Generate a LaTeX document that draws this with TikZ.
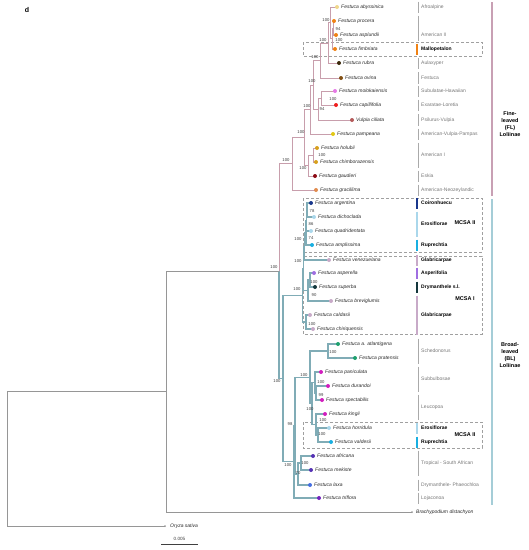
\documentclass[tikz,border=0pt]{standalone}
\usepackage{fontspec}
\setmainfont{Liberation Sans}
\definecolor{flc}{RGB}{200,158,172}
\definecolor{blc}{RGB}{128,172,182}
\definecolor{ogc}{RGB}{150,150,150}
\definecolor{txc}{RGB}{40,40,40}
\definecolor{supc}{RGB}{60,60,60}
\definecolor{grc}{RGB}{120,120,120}
\definecolor{sepc}{RGB}{170,170,170}
\definecolor{boxc}{RGB}{160,160,160}
\definecolor{cAbys}{RGB}{240,215,140}
\definecolor{cOrange}{RGB}{240,130,20}
\definecolor{cRubra}{RGB}{60,40,10}
\definecolor{cOvina}{RGB}{130,80,20}
\definecolor{cMolo}{RGB}{230,120,230}
\definecolor{cCapi}{RGB}{240,30,30}
\definecolor{cVulp}{RGB}{180,90,90}
\definecolor{cPamp}{RGB}{225,200,20}
\definecolor{cAmI}{RGB}{215,160,30}
\definecolor{cGaud}{RGB}{140,10,20}
\definecolor{cGrac}{RGB}{225,140,80}
\definecolor{cArg}{RGB}{25,55,140}
\definecolor{cLblue}{RGB}{170,215,235}
\definecolor{cCyan}{RGB}{25,175,225}
\definecolor{cGlab}{RGB}{200,170,200}
\definecolor{cAsp}{RGB}{160,110,225}
\definecolor{cSup}{RGB}{20,55,60}
\definecolor{cGreen}{RGB}{30,160,110}
\definecolor{cMag}{RGB}{210,30,190}
\definecolor{cAfr}{RGB}{85,50,180}
\definecolor{cLaxa}{RGB}{70,110,225}
\definecolor{cTrif}{RGB}{115,35,190}
\definecolor{flbar}{RGB}{200,160,180}
\definecolor{blbar}{RGB}{165,205,215}
\newcommand\tipc[3]{\coordinate (#1) at (#2,#3);}
\newcommand\tipd[3]{%
  \node[dot,fill=#2] (#1d) at (#1) {};
  \node[tx] (#1l) at ([xshift=4pt]#1) {#3};}
\newcommand\mynd[3]{\coordinate (#1) at (#2,#3);}
\newcommand\mysup[4]{\node[sup] (#1) at (#2,#3) {#4};}
\newcommand\mygrp[5]{%
  \coordinate (#1a) at (418,#2); \coordinate (#1b) at (418,#3);
  \draw[sep] (#1a) -- (#1b);
  \node[grp] (#1t) at (421,#4) {#5};}
\newcommand\mybgrp[6]{%
  \coordinate (#1a) at (417,#2); \coordinate (#1b) at (417,#3);
  \draw[bar,draw=#5] (#1a) -- (#1b);
  \node[bgrp] (#1t) at (421,#4) {#6};}
\begin{document}
\begin{tikzpicture}[x=1pt,y=-1pt,
  fl/.style={draw=flc, line width=0.8pt},
  bl/.style={draw=blc, line width=1.2pt},
  og/.style={draw=ogc, line width=0.8pt},
  dot/.style={circle, inner sep=0pt, minimum size=4pt},
  odot/.style={circle, inner sep=0pt, minimum size=2pt, fill=ogc},
  tx/.style={anchor=west, inner sep=0pt, font=\fontsize{5}{6}\selectfont\itshape, text=txc},
  sup/.style={inner sep=0pt, font=\fontsize{4.2}{5}\selectfont, text=supc},
  grp/.style={anchor=west, inner sep=0pt, font=\fontsize{5}{6}\selectfont, text=grc},
  bgrp/.style={anchor=west, inner sep=0pt, font=\fontsize{5}{6}\selectfont\bfseries, text=black},
  mcsa/.style={inner sep=0pt, font=\fontsize{5.5}{6.5}\selectfont\bfseries, text=black},
  clade/.style={inner sep=0pt, align=center, font=\fontsize{5.5}{7.3}\selectfont\bfseries, text=black},
  sep/.style={draw=sepc, line width=0.5pt},
  bar/.style={line width=1.4pt},
  box/.style={draw=boxc, line width=0.5pt, dash pattern=on 3pt off 2pt},
]
\useasboundingbox (0,0) rectangle (529,550);
% panel letter
\node[inner sep=0pt, font=\fontsize{7}{8}\selectfont\bfseries] (panel) at (27,10) {d};
% dashed boxes
\draw[box] (303,42) rectangle (482,56);
\draw[box] (303,198) rectangle (482,252);
\draw[box] (303,256) rectangle (482,334);
\draw[box] (303,422) rectangle (482,448);
% ---------- tip coordinates ----------
\tipc{abys}{337}{7}
\tipc{proc}{334}{21}
\tipc{aspl}{336}{35}
\tipc{fimb}{335}{49}
\tipc{rubr}{339}{63}
\tipc{ovin}{341}{78}
\tipc{molo}{335}{91}
\tipc{capi}{336}{105}
\tipc{vulp}{352}{120}
\tipc{pamp}{333}{134}
\tipc{holu}{317}{148}
\tipc{chim}{316}{162}
\tipc{gaud}{315}{176}
\tipc{grac}{316}{190}
\tipc{arge}{311}{203}
\tipc{dich}{314}{217}
\tipc{quad}{311}{231}
\tipc{ampl}{312}{245}
\tipc{vene}{329}{260}
\tipc{aspe}{314}{273}
\tipc{supe}{315}{287}
\tipc{brev}{331}{301}
\tipc{cald}{310}{315}
\tipc{chir}{313}{329}
\tipc{atla}{338}{344}
\tipc{prat}{355}{358}
\tipc{pani}{321}{372}
\tipc{dura}{328}{386}
\tipc{spec}{322}{400}
\tipc{king}{325}{414}
\tipc{horr}{329}{428}
\tipc{vald}{331}{442}
\tipc{afri}{313}{456}
\tipc{meki}{311}{470}
\tipc{laxa}{310}{485}
\tipc{trif}{319}{498}
\tipc{brac}{412}{512}
\tipc{oryz}{165}{526}
% ---------- internal nodes ----------
\mynd{PA}{333}{28}
\mynd{PAF}{332}{38.5}
\mynd{APAF}{330}{22.75}
\mynd{R}{328}{42.9}
\mynd{O}{320}{60.7}
\mynd{MC}{321}{98}
\mynd{MCV}{318}{109}
\mynd{OM}{313}{84.9}
\mynd{OMP}{310}{109.4}
\mynd{HC}{313}{155}
\mynd{HCG}{308}{165.5}
\mynd{F1}{304}{137.5}
\mynd{FL}{292}{163.7}
\mynd{AD}{307}{210}
\mynd{ADQ}{306.5}{220.5}
\mynd{M2}{306}{232.75}
\mynd{V}{304.5}{246.4}
\mynd{AS}{310}{280}
\mynd{ASB}{308}{290.5}
\mynd{V2}{303.5}{268.4}
\mynd{CC}{306}{322}
\mynd{MCSA}{302.5}{295.2}
\mynd{S}{328}{351}
\mynd{D}{316}{393}
\mynd{P}{315}{382.5}
\mynd{H}{318}{435}
\mynd{Q}{316}{424.5}
\mynd{K}{312}{403.5}
\mynd{SK}{310}{377.25}
\mynd{AM}{301}{463}
\mynd{AML}{298}{474}
\mynd{R1}{295}{425.6}
\mynd{R2}{294}{461.8}
\mynd{BL}{283}{378.5}
\mynd{LOL}{279}{271.1}
\mynd{B}{166}{391.5}
\mynd{ROOT}{7}{458.8}
% ---------- edges ----------
\draw[fl] (PA) |- (proc) (PA) |- (aspl);
\draw[fl] (PAF) |- (PA) (PAF) |- (fimb);
\draw[fl] (APAF) |- (abys) (APAF) |- (PAF);
\draw[fl] (R) |- (APAF) (R) |- (rubr);
\draw[fl] (O) |- (R) (O) |- (ovin);
\draw[fl] (MC) |- (molo) (MC) |- (capi);
\draw[fl] (MCV) |- (MC) (MCV) |- (vulp);
\draw[fl] (OM) |- (O) (OM) |- (MCV);
\draw[fl] (OMP) |- (OM) (OMP) |- (pamp);
\draw[fl] (HC) |- (holu) (HC) |- (chim);
\draw[fl] (HCG) |- (HC) (HCG) |- (gaud);
\draw[fl] (F1) |- (OMP) (F1) |- (HCG);
\draw[fl] (FL) |- (F1) (FL) |- (grac);
\draw[fl] (LOL) |- (FL);
\draw[bl] (LOL) |- (BL);
\draw[bl] (AD) |- (arge) (AD) |- (dich);
\draw[bl] (ADQ) |- (AD) (ADQ) |- (quad);
\draw[bl] (M2) |- (ADQ) (M2) |- (ampl);
\draw[bl] (V) |- (M2) (V) |- (vene);
\draw[bl] (AS) |- (aspe) (AS) |- (supe);
\draw[bl] (ASB) |- (AS) (ASB) |- (brev);
\draw[bl] (V2) |- (V) (V2) |- (ASB);
\draw[bl] (CC) |- (cald) (CC) |- (chir);
\draw[bl] (MCSA) |- (V2) (MCSA) |- (CC);
\draw[bl] (S) |- (atla) (S) |- (prat);
\draw[bl] (D) |- (dura) (D) |- (spec);
\draw[bl] (P) |- (pani) (P) |- (D);
\draw[bl] (H) |- (horr) (H) |- (vald);
\draw[bl] (Q) |- (king) (Q) |- (H);
\draw[bl] (K) |- (P) (K) |- (Q);
\draw[bl] (SK) |- (S) (SK) |- (K);
\draw[bl] (AM) |- (afri) (AM) |- (meki);
\draw[bl] (AML) |- (AM) (AML) |- (laxa);
\draw[bl] (R1) |- (SK) (R1) |- (AML);
\draw[bl] (R2) |- (R1) (R2) |- (trif);
\draw[bl] (BL) |- (MCSA) (BL) |- (R2);
\draw[og] (B) |- (LOL) (B) |- (brac);
\draw[og] (ROOT) |- (B) (ROOT) |- (oryz);
% ---------- tip dots and names ----------
\tipd{abys}{cAbys}{Festuca abyssinica}
\tipd{proc}{cOrange}{Festuca procera}
\tipd{aspl}{cOrange}{Festuca asplundii}
\tipd{fimb}{cOrange}{Festuca fimbriata}
\tipd{rubr}{cRubra}{Festuca rubra}
\tipd{ovin}{cOvina}{Festuca ovina}
\tipd{molo}{cMolo}{Festuca molokaiensis}
\tipd{capi}{cCapi}{Festuca capillifolia}
\tipd{vulp}{cVulp}{Vulpia ciliata}
\tipd{pamp}{cPamp}{Festuca pampeana}
\tipd{holu}{cAmI}{Festuca holubii}
\tipd{chim}{cAmI}{Festuca chimborazensis}
\tipd{gaud}{cGaud}{Festuca gaudieri}
\tipd{grac}{cGrac}{Festuca gracillima}
\tipd{arge}{cArg}{Festuca argentina}
\tipd{dich}{cLblue}{Festuca dichoclada}
\tipd{quad}{cLblue}{Festuca quadridentata}
\tipd{ampl}{cCyan}{Festuca amplissima}
\tipd{vene}{cGlab}{Festuca venezuelana}
\tipd{aspe}{cAsp}{Festuca asperella}
\tipd{supe}{cSup}{Festuca superba}
\tipd{brev}{cGlab}{Festuca breviglumis}
\tipd{cald}{cGlab}{Festuca caldasii}
\tipd{chir}{cGlab}{Festuca chiriquensis}
\tipd{atla}{cGreen}{Festuca a. atlantigena}
\tipd{prat}{cGreen}{Festuca pratensis}
\tipd{pani}{cMag}{Festuca paniculata}
\tipd{dura}{cMag}{Festuca durandoi}
\tipd{spec}{cMag}{Festuca spectabilis}
\tipd{king}{cMag}{Festuca kingii}
\tipd{horr}{cLblue}{Festuca horridula}
\tipd{vald}{cCyan}{Festuca valdesii}
\tipd{afri}{cAfr}{Festuca africana}
\tipd{meki}{cAfr}{Festuca mekiste}
\tipd{laxa}{cLaxa}{Festuca laxa}
\tipd{trif}{cTrif}{Festuca triflora}
\node[odot] (bracd) at (brac) {};
\node[tx] (bracl) at ([xshift=4pt]brac) {Brachypodium distachyon};
\node[odot] (oryzd) at (oryz) {};
\node[tx] (oryzl) at ([xshift=5pt]oryz) {Oryza sativa};
% ---------- supports ----------
\mysup{sAPAF}{326}{20}{100}
\mysup{sPA}{338}{29}{94}
\mysup{sPAF}{339}{40}{100}
\mysup{sR}{323}{40}{100}
\mysup{sO}{315}{57}{100}
\mysup{sOM}{312}{81}{100}
\mysup{sMC}{333}{99}{100}
\mysup{sOMP}{307}{106}{100}
\mysup{sMCV}{322}{109}{94}
\mysup{sF1}{301}{132}{100}
\mysup{sHC}{322}{155}{100}
\mysup{sHCG}{303}{168}{100}
\mysup{sFL}{286}{160}{100}
\mysup{sLOL}{274}{267}{100}
\mysup{sAD}{312}{211}{78}
\mysup{sADQ}{311}{224}{86}
\mysup{sM2}{311}{238}{74}
\mysup{sV}{298}{239}{100}
\mysup{sV2}{298}{261}{100}
\mysup{sAS}{314}{282}{100}
\mysup{sASB}{314}{295}{90}
\mysup{sCC}{312}{324}{100}
\mysup{sMCSA}{297}{289}{100}
\mysup{sS}{333}{352}{100}
\mysup{sP}{321}{382}{100}
\mysup{sD}{321}{395}{99}
\mysup{sK}{310}{409}{100}
\mysup{sQ}{323}{420}{100}
\mysup{sH}{322}{434}{100}
\mysup{sSK}{304}{375}{100}
\mysup{sAM}{305}{463}{100}
\mysup{sAML}{298}{473}{70}
\mysup{sR1}{290}{424}{98}
\mysup{sR2}{288}{465}{100}
\mysup{sBL}{277}{381}{100}
% ---------- groups ----------
\mygrp{g1}{1.5}{12.5}{7}{Afroalpine}
\mygrp{g2}{15.5}{40.5}{35}{American II}
\mybgrp{g3}{44}{55}{49}{cOrange}{Mallopetalon}
\mygrp{g4}{57.5}{68.5}{63}{Aulaxyper}
\mygrp{g5}{72}{84}{78}{Festuca}
\mygrp{g6}{85.5}{96.5}{91}{Subulatae-Hawaiian}
\mygrp{g7}{99.5}{110.5}{105}{Exaratae-Loretia}
\mygrp{g8}{114}{126}{120}{Psilurus-Vulpia}
\mygrp{g9}{128.5}{139.5}{134}{American-Vulpia-Pampas}
\mygrp{g10}{142.5}{167.5}{155}{American I}
\mygrp{g11}{170.5}{181.5}{176}{Eskia}
\mygrp{g12}{184.5}{195.5}{190}{American-Neozeylandic}
\mybgrp{g13}{198}{208.5}{203}{cArg}{Coironhuecu}
\mybgrp{g14}{211.5}{236.5}{224}{cLblue}{Erosiflorae}
\mybgrp{g15}{239.5}{250.5}{245}{cCyan}{Ruprechtia}
\mybgrp{g16}{254.5}{265.5}{260}{cGlab}{Glabricarpae}
\mybgrp{g17}{267.5}{278.5}{273}{cAsp}{Asperifolia}
\mybgrp{g18}{281.5}{292.5}{287}{cSup}{Drymanthele s.l.}
\mybgrp{g19}{295.5}{334.5}{315}{cGlab}{Glabricarpae}
\mygrp{g20}{338.5}{363.5}{351}{Schedonorus}
\mygrp{g21}{366.5}{391.5}{379}{Subbulbosae}
\mygrp{g22}{394.5}{419.5}{407}{Leucopoa}
\mybgrp{g23}{422.5}{433.5}{428}{cLblue}{Erosiflorae}
\mybgrp{g24}{436.5}{447.5}{442}{cCyan}{Ruprechtia}
\mygrp{g25}{450.5}{475.5}{463}{Tropical - South African}
\mygrp{g26}{479.5}{490.5}{485}{Drymanthele- Phaeochloa}
\mygrp{g27}{492.5}{503.5}{498}{Lojaconoa}
% MCSA labels
\node[mcsa] (mc1) at (465,223) {MCSA II};
\node[mcsa] (mc2) at (465,299) {MCSA I};
\node[mcsa] (mc3) at (465,435) {MCSA II};
% clade brackets
\coordinate (fla) at (492,2); \coordinate (flb) at (492,196);
\coordinate (bla) at (492,199); \coordinate (blb) at (492,505);
\draw[draw=flbar, line width=1.2pt] (fla) -- (flb);
\draw[draw=blbar, line width=1.2pt] (bla) -- (blb);
\node[clade] (flt) at (510,124) {Fine-\\leaved\\(FL)\\Loliinae};
\node[clade] (blt) at (510,355) {Broad-\\leaved\\(BL)\\Loliinae};
% scale bar
\coordinate (sb1) at (161,544); \coordinate (sb2) at (198,544);
\draw[line width=0.7pt, black!75] (sb1) -- (sb2);
\node[sup, font=\fontsize{4.6}{5}\selectfont] (sbt) at (179.5,539) {0.005};
\end{tikzpicture}
\end{document}
